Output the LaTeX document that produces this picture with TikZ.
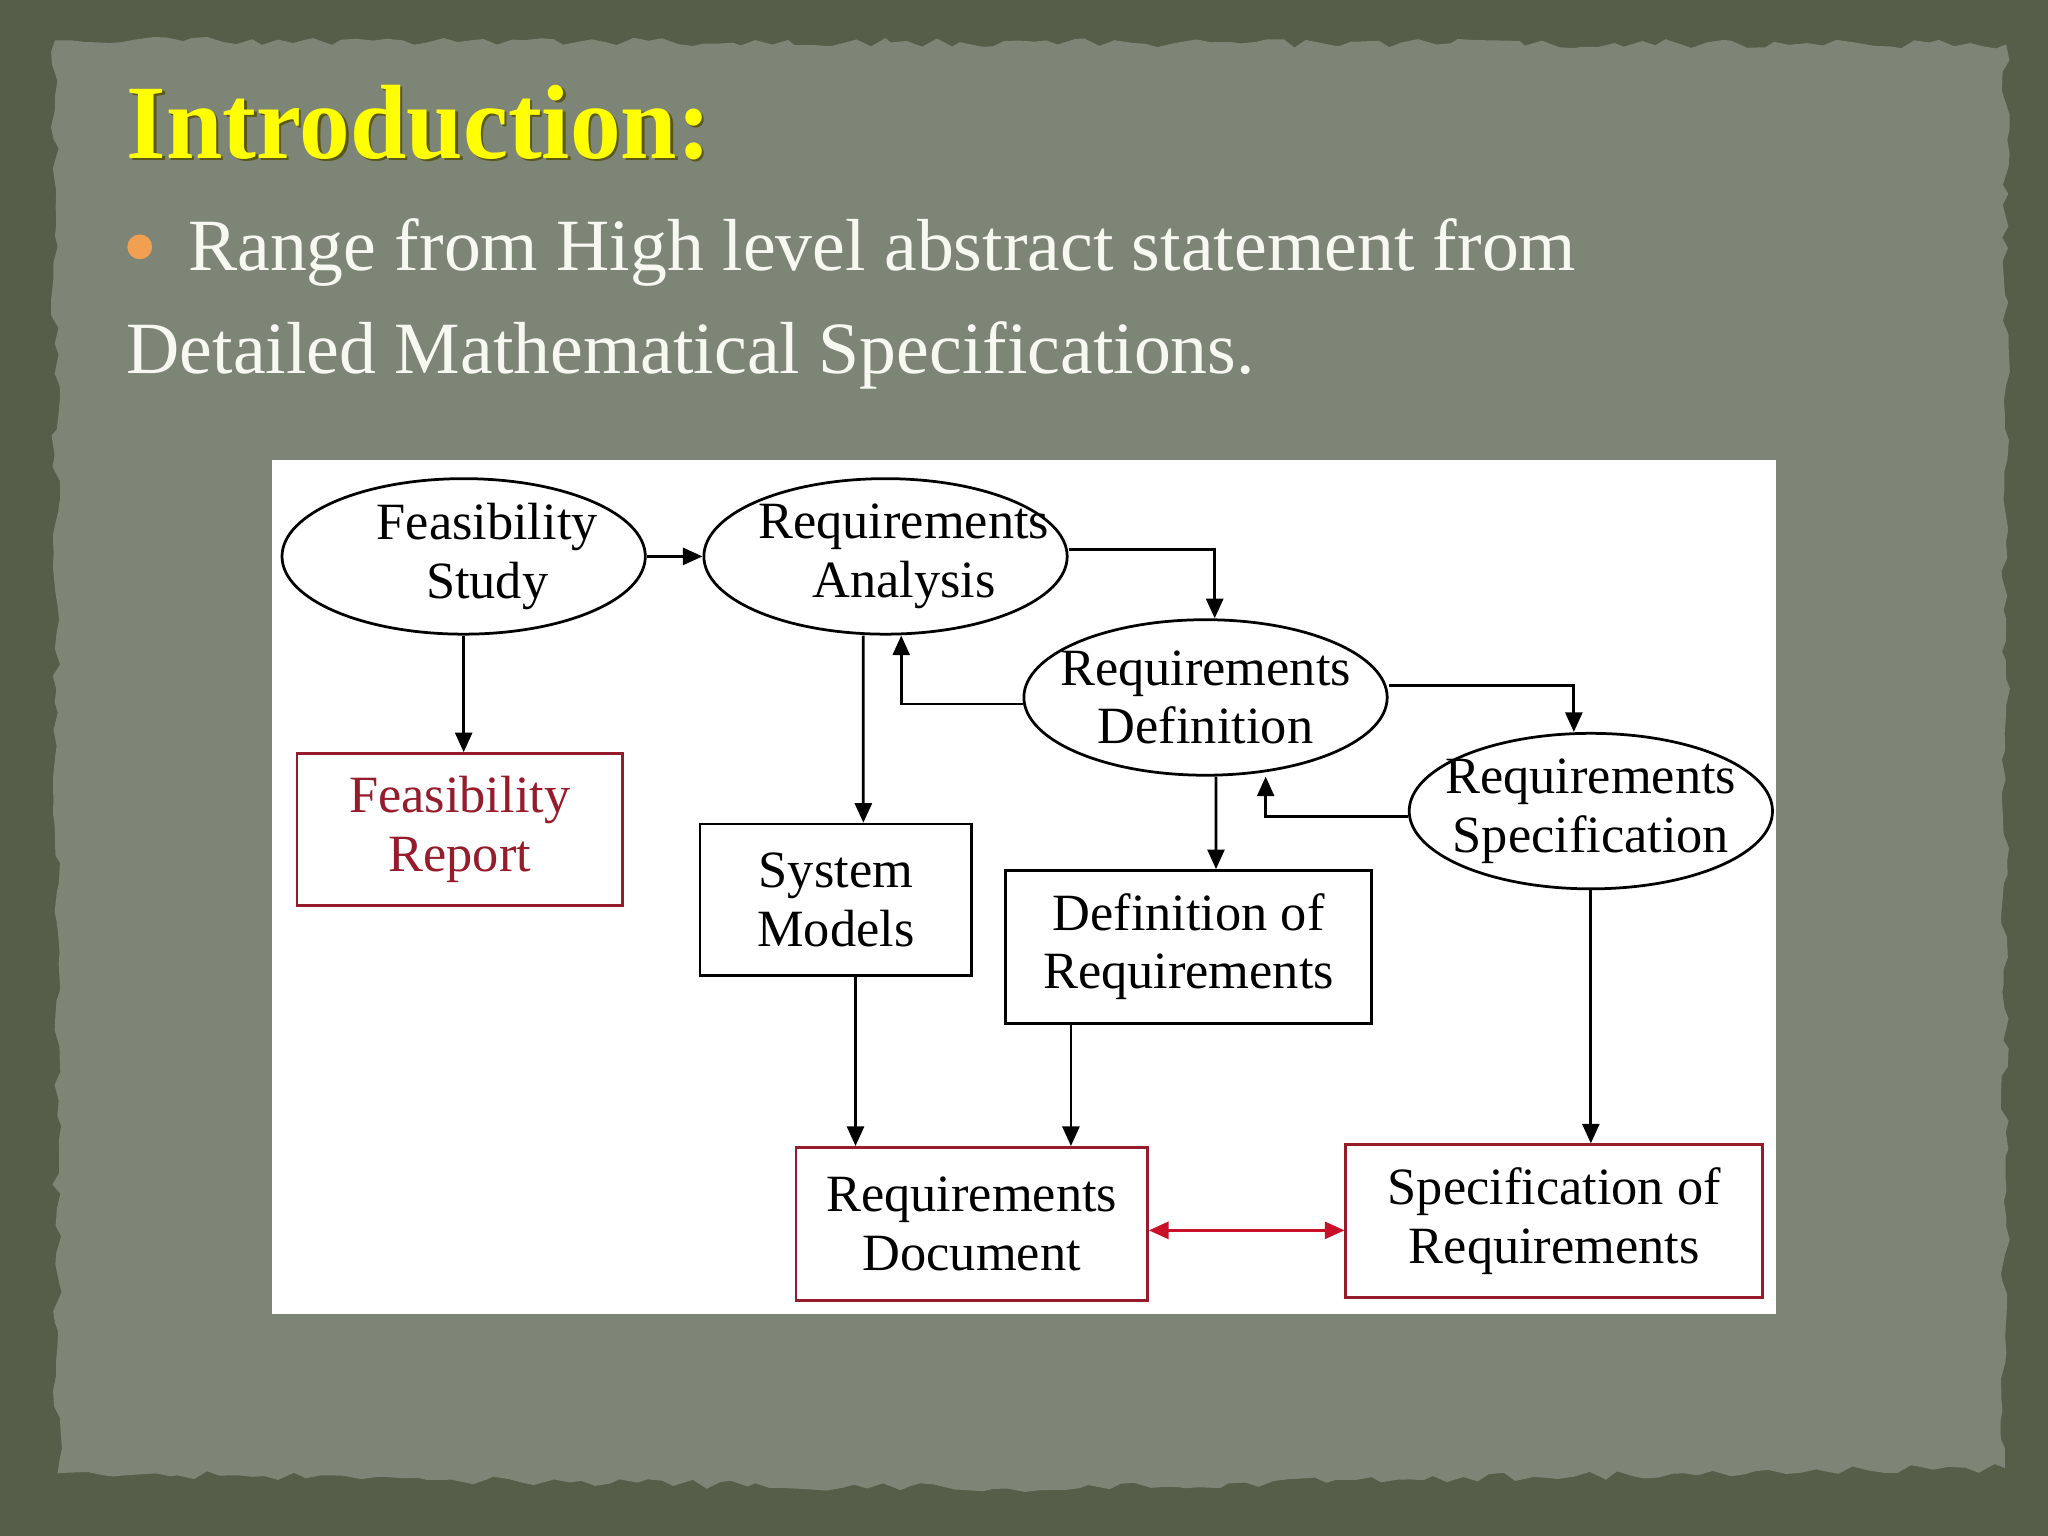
\documentclass[tikz,border=0pt]{standalone}
\usepackage{fontspec}
\setmainfont{Liberation Serif}
\newfontfamily\titlefont[FakeStretch=0.96]{Liberation Serif}
\usetikzlibrary{arrows.meta, shapes.geometric, decorations.pathmorphing}

\definecolor{boardgreen}{RGB}{84,94,72}
\definecolor{paper}{RGB}{125,133,119}
\definecolor{titleyellow}{RGB}{255,255,0}
\definecolor{titleshade}{RGB}{90,88,24}
\definecolor{bulletorange}{RGB}{240,160,80}
\definecolor{bodywhite}{RGB}{248,248,242}
\definecolor{docred}{RGB}{150,28,44}
\definecolor{linkred}{RGB}{200,16,40}

\begin{document}
\begin{tikzpicture}[x=0.01cm, y=-0.01cm, >={Triangle[length=1.5mm,width=1.3mm]}, line width=0.6pt,
  process/.style={ellipse, draw, minimum width=2.78cm, minimum height=1.19cm,
    inner xsep=-0.3cm, inner ysep=-0.3cm,
    align=center, font=\fontsize{11.4}{12.7}\selectfont},
  product/.style={rectangle, draw, minimum height=1.17cm, inner sep=0pt,
    align=center, font=\fontsize{11.4}{12.7}\selectfont},
  document/.style={product, draw=docred},
  slidetext/.style={anchor=base west, inner sep=0pt}]

% the slide background
  \useasboundingbox (0,0) rectangle (1568,1176);
  \fill[boardgreen] (0,0) rectangle (1568,1176);
  \pgfmathsetseed{11}
  \fill[paper, decorate, decoration={random steps, segment length=3pt, amplitude=1pt}]
    (42,31) -- (1536,34) -- (1535,1124) -- (1290,1128) -- (760,1140) -- (44,1128) -- cycle;

% title and bullet text
  \node[slidetext, text=titleshade, font=\titlefont\bfseries\fontsize{23}{26}\selectfont]
    (titleshadow) at (98,123) {Introduction:};
  \node[slidetext, text=titleyellow, font=\titlefont\bfseries\fontsize{23}{26}\selectfont]
    (title) at (96,121) {Introduction:};
  \fill[bulletorange] (107,189) circle (0.095cm);
  \node[slidetext, text=bodywhite, font=\fontsize{16.05}{20}\selectfont]
    (line1) at (143,207) {Range from High level abstract statement from};
  \node[slidetext, text=bodywhite, font=\fontsize{16.05}{20}\selectfont]
    (line2) at (96,286) {Detailed Mathematical Specifications.};

% the diagram panel
  \fill[white] (208,352) rectangle (1360,1006);

% define the phases
  \node[process] (fs) at (355,426) {\hspace*{0.36cm}Feasibility\\\hspace*{0.36cm}Study};
  \node[process] (ra) at (678,426) {\hspace*{0.28cm}Requirements\\\hspace*{0.28cm}Analysis};
  \node[process] (rd) at (923,534) {Requirements\\Definition};
  \node[process] (rs) at (1218,621) {Requirements\\Specification};

% define the products
  \node[document, text=docred, minimum width=2.49cm, minimum height=1.16cm] (fr) at (352,635)
    {Feasibility\\Report};
  \node[product, minimum width=2.08cm, minimum height=1.16cm] (sm) at (640,689) {System\\Models};
  \node[product, minimum width=2.80cm] (dr) at (910,725) {Definition of\\Requirements};
  \node[document, minimum width=2.69cm] (rdoc) at (744,937) {Requirements\\Document};
  \node[document, minimum width=3.19cm] (sor) at (1190,935) {Specification of\\Requirements};

% define the links
  \draw[->] (fs.east) -- (ra.west);
  \draw[->] ([yshift=0.05cm]ra.east) -| ([xshift=0.07cm]rd.north);
  \draw[->] ([yshift=-0.05cm]rd.west) -| ([xshift=0.12cm]ra.south);
  \draw[->] ([xshift=-0.17cm]ra.south) -- ([xshift=0.21cm]sm.north);
  \draw[->] ([yshift=0.09cm]rd.east) -| ([xshift=-0.13cm]rs.north);
  \draw[->] ([yshift=-0.04cm]rs.west) -| ([xshift=0.46cm]rd.south);
  \draw[->] ([xshift=0.08cm]rd.south) -- ([xshift=0.21cm]dr.north);
  \draw[->] (fs.south) -- (fs.south |- fr.north);
  \draw[->] ([xshift=0.15cm]sm.south) coordinate (smout) -- (smout |- rdoc.north);
  \draw[->] ([xshift=-0.9cm]dr.south) coordinate (drout) -- (drout |- rdoc.north);
  \draw[->] (rs.south) -- (rs.south |- sor.north);
  \draw[<->, linkred] ([yshift=-0.05cm]rdoc.east) coordinate (docout) -- (docout -| sor.west);

\end{tikzpicture}
\end{document}
